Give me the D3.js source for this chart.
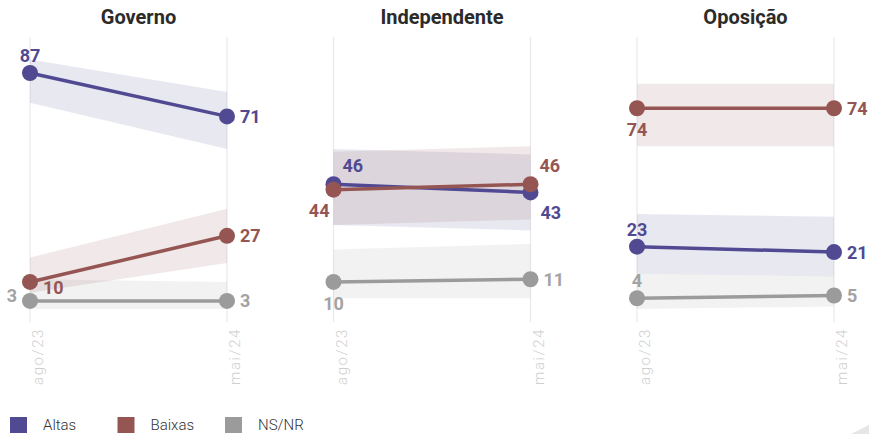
<!DOCTYPE html>
<html><head><meta charset="utf-8">
<script src="https://cdn.jsdelivr.net/npm/d3@7"></script>
<style>
html,body{margin:0;padding:0;background:#fff;}
svg{display:block;font-family:Roboto,"Noto Sans",sans-serif;}
</style></head>
<body>
<svg id="chart" width="869" height="434"></svg>
<script>
// ---- data ----
const panels = ["Governo", "Independente", "Oposição"];
const periods = ["ago/23", "mai/24"];
const seriesNames = ["Altas", "Baixas", "NS/NR"];
const altas  = [[87, 71], [46, 43], [23, 21]];
const baixas = [[10, 27], [44, 46], [74, 74]];
const nsnr   = [[3, 3],   [10, 11], [4, 5]];
// margin-of-error bands (lower / upper)
const altasLo  = [[76, 59], [31, 29], [13, 12]];
const altasHi  = [[92, 80], [59, 57], [35, 34]];
const baixasLo = [[6, 17],  [31, 33], [60, 60]];
const baixasHi = [[19, 37], [58, 60], [83, 83]];
const nsnrLo   = [[0, 0],   [4, 4],   [0, 1]];
const nsnrHi   = [[11, 10], [22, 24], [13, 12]];
const colors = ["#514a92", "#955653", "#9b9b9b"];
const labelColors = ["#514a92", "#955653", "#a3a3a3"];

const values = [altas, baixas, nsnr];
const lows = [altasLo, baixasLo, nsnrLo];
const highs = [altasHi, baixasHi, nsnrHi];

// label placement per panel / series / period
const placement = [
  [["above", "right"], ["rightLow", "right"], ["left", "right"]],
  [["aboveRight", "belowRight"], ["belowLeft", "aboveRight"], ["below", "right"]],
  [["above", "right"], ["below", "right"], ["above", "right"]]
];

const svg = d3.select("#chart");
const y = d3.scaleLinear().domain([0, 100]).range([309.1, 37.7]);
const panelX = d3.scalePoint().domain(panels).range([30, 637]);
const x = d3.scalePoint().domain(periods).range([0, 197]);

// draw order: NS/NR, Altas, Baixas
const order = [2, 0, 1];

panels.forEach((p, pi) => {
  const g = svg.append("g").attr("transform", `translate(${panelX(p)},0)`);

  // gridlines
  periods.forEach(per => {
    g.append("line").attr("x1", x(per)).attr("x2", x(per))
      .attr("y1", 37).attr("y2", 322)
      .attr("stroke", "#e9e9e9").attr("stroke-width", 1.2);
    g.append("text")
      .attr("transform", `translate(${x(per) + 13},328) rotate(-90)`)
      .attr("text-anchor", "end")
      .attr("font-size", 15).attr("font-weight", 300)
      .attr("letter-spacing", 1.6)
      .attr("fill", "#cfcfcf")
      .text(per);
  });

  // title
  g.append("text").attr("x", 98.5 + 10).attr("y", 24)
    .attr("text-anchor", "middle").attr("font-size", 20).attr("font-weight", 700)
    .attr("fill", "#2b2b2b").text(p);

  // bands
  order.forEach(si => {
    const area = d3.area()
      .x((d, i) => x(periods[i]))
      .y0((d, i) => y(lows[si][pi][i]))
      .y1((d, i) => y(highs[si][pi][i]));
    g.append("path").datum(periods).attr("d", area)
      .attr("fill", colors[si]).attr("fill-opacity", 0.13);
  });

  // lines and points
  order.forEach(si => {
    const line = d3.line().x((d, i) => x(periods[i])).y(d => y(d));
    g.append("path").datum(values[si][pi]).attr("d", line)
      .attr("fill", "none").attr("stroke", colors[si]).attr("stroke-width", 3.5);
    g.selectAll(null).data(values[si][pi]).enter().append("circle")
      .attr("cx", (d, i) => x(periods[i])).attr("cy", d => y(d))
      .attr("r", 8).attr("fill", colors[si]);
  });

  // labels
  order.forEach(si => {
    values[si][pi].forEach((v, i) => {
      const px = x(periods[i]), py = y(v);
      const pl = placement[pi][si][i];
      let tx = px, ty = py, anchor = "middle";
      if (pl === "above") { ty = py - 11; }
      else if (pl === "below") { ty = py + 28; }
      else if (pl === "right") { tx = px + 13; ty = py + 6.5; anchor = "start"; }
      else if (pl === "rightLow") { tx = px + 13; ty = py + 12; anchor = "start"; }
      else if (pl === "left") { tx = px - 13; ty = py + 1; anchor = "end"; }
      else if (pl === "aboveRight") { tx = px + 9; ty = py - 12; anchor = "start"; }
      else if (pl === "belowRight") { tx = px + 10; ty = py + 27; anchor = "start"; }
      else if (pl === "belowLeft") { tx = px - 4; ty = py + 27; anchor = "end"; }
      g.append("text").attr("x", tx).attr("y", ty).attr("text-anchor", anchor)
        .attr("font-size", 18).attr("font-weight", 700)
        .attr("fill", labelColors[si]).text(v);
    });
  });
});

// legend
const legX = d3.scalePoint().domain(seriesNames).range([10, 225]);
const leg = svg.append("g");
seriesNames.forEach((s, i) => {
  leg.append("rect").attr("x", legX(s)).attr("y", 417).attr("width", 17).attr("height", 16)
    .attr("fill", colors[i]);
  leg.append("text").attr("x", legX(s) + 33).attr("y", 430)
    .attr("font-size", 15).attr("font-weight", 300).attr("fill", "#333").text(s);
});

// faint corner mark
svg.append("path").attr("d", "M851,434 L869,425 L869,434 Z").attr("fill", "#e6e6e6");
</script>
</body></html>
